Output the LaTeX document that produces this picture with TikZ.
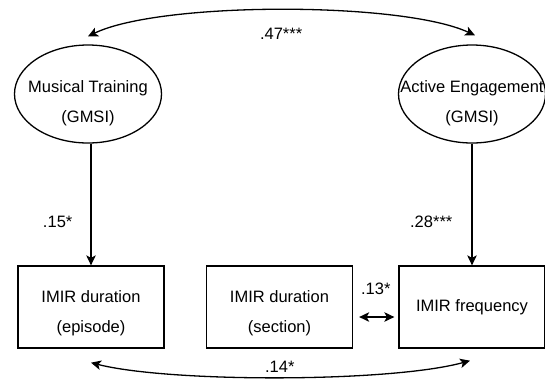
\documentclass[tikz,border=0pt]{standalone}
\usepackage{fontspec}
\setmainfont{Liberation Sans}
\usetikzlibrary{shapes.geometric,arrows.meta}
\tikzset{
	latent/.style={draw,ellipse,minimum width=147pt,minimum height=98pt,inner sep=0pt},
	observed/.style={draw,minimum width=146pt,minimum height=82pt,inner sep=0pt},
	txt/.style={align=center,font=\fontsize{16.5}{30}\selectfont},
	coef/.style={inner sep=0pt,font=\fontsize{16.5}{20}\selectfont}
}
\begin{document}
\begin{tikzpicture}[x=1pt,y=-1pt,line width=1.3pt,>={Stealth[length=10pt,width=9.5pt,inset=2.5pt]}]
	\useasboundingbox (0,0) rectangle (545,384);
	% latent factors
	\node[latent] (mt) at (88,94) {};
	\node[latent] (ae) at (472,94) {};
	\node[txt] at ([yshift=-9pt]mt) {Musical Training\\(GMSI)};
	\node[txt] at ([yshift=-9pt]ae) {Active Engagement\\(GMSI)};
	% IMIR measures
	\node[observed] (ep) at (91,307) {};
	\node[observed] (sec) at (279.5,307) {};
	\node[observed,txt] (fr) at (472,307) {\raisebox{-3pt}{IMIR frequency}};
	\node[txt] at ([yshift=-6pt]ep) {IMIR duration\\(episode)};
	\node[txt] at ([yshift=-6pt]sec) {IMIR duration\\(section)};
	% paths
	\draw[->] (ep.north |- mt.south) -- node[coef,pos=0.64,left=18pt] {.15*} (ep.north);
	\draw[->] (ae.south) -- node[coef,pos=0.64,left=19pt] {.28***} (fr.north);
	\draw[<->,shorten <=6pt,shorten >=4pt] ([yshift=-10pt]sec.east) -- node[coef,above=22pt] {.13*} ([yshift=-10pt]fr.west);
	\draw[<->] ([yshift=8pt]mt.north) .. controls +(72,-35) and +(-73,-34) .. node[coef,below=18pt] {.47***} ([yshift=9pt,xshift=3pt]ae.north);
	\draw[<->] ([yshift=-14pt]ep.south) .. controls +(78,20) and +(-80,22) .. node[coef,above=4pt] {.14*} ([yshift=-12pt,xshift=-2pt]fr.south);
\end{tikzpicture}
\end{document}
